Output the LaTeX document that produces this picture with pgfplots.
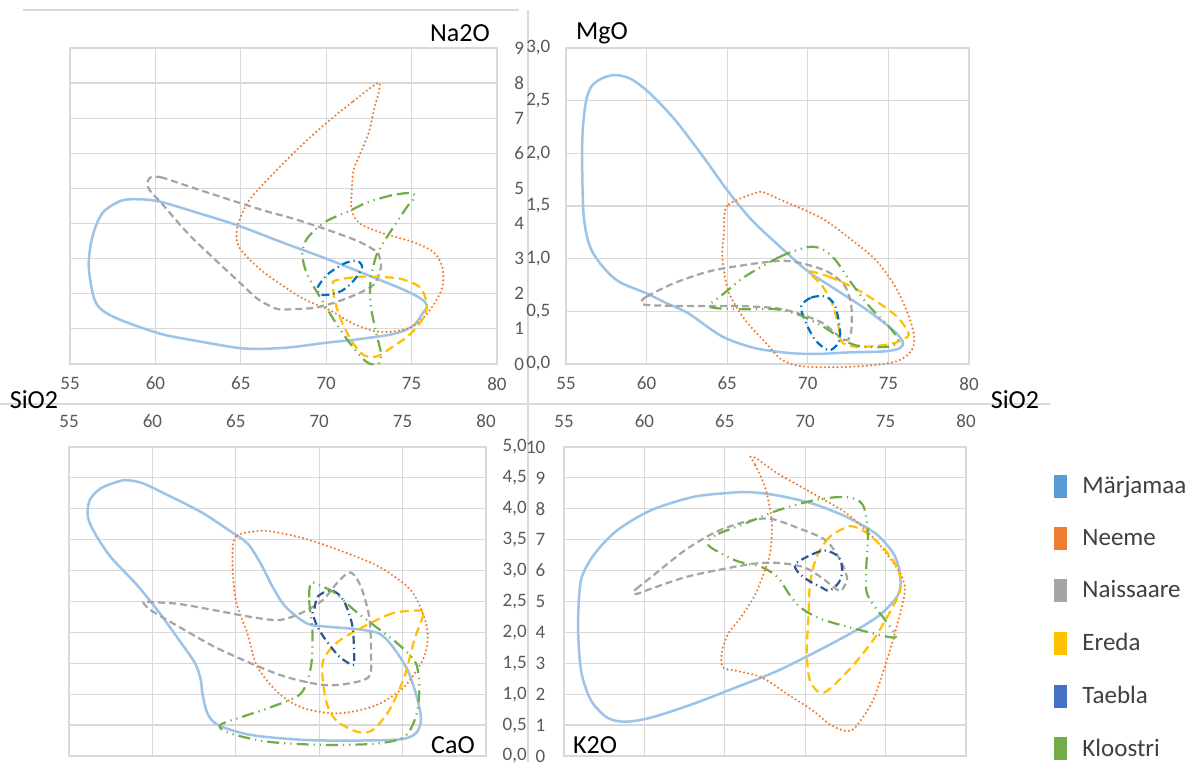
\documentclass[border=0pt]{standalone}
\usepackage{fontspec}
\setmainfont{Carlito}
\usepackage{pgfplots}
\pgfplotsset{compat=1.18}
\definecolor{cMar}{HTML}{9DC3E6}
\definecolor{cMarL}{HTML}{5B9BD5}
\definecolor{cNee}{HTML}{ED7D31}
\definecolor{cNai}{HTML}{A5A5A5}
\definecolor{cEre}{HTML}{FFC000}
\definecolor{cTaeT}{HTML}{0070C0}
\definecolor{cTae}{HTML}{2F5597}
\definecolor{cTaeL}{HTML}{4472C4}
\definecolor{cKlo}{HTML}{70AD47}
\definecolor{gridc}{HTML}{D9D9D9}
\definecolor{labc}{HTML}{595959}
\definecolor{txtc}{HTML}{404040}
\pgfplotsset{
  panel/.style={
    scale only axis, clip=false,
    xmin=55, xmax=80, xtick={55,60,65,70,75,80},
    grid=major, major grid style={draw=gridc, line width=0.6pt},
    axis line style={draw=gridc, line width=0.6pt},
    major tick length=0pt,
    tick label style={font=\fontsize{9.5}{11}\selectfont, text=labc},
    /pgf/number format/assume math mode=true,
  },
  commay/.style={yticklabel style={/pgf/number format/fixed, /pgf/number format/fixed zerofill, /pgf/number format/precision=1, /pgf/number format/use comma}},
  mar/.style={draw=cMar, line width=1.25pt, smooth cycle},
  nee/.style={draw=cNee, line width=1.2pt, line cap=round, dash pattern=on 0pt off 2.1pt, smooth cycle},
  nai/.style={draw=cNai, line width=1.1pt, dash pattern=on 3.5pt off 2pt, smooth cycle},
  ere/.style={draw=cEre, line width=1.1pt, dash pattern=on 4.5pt off 2.5pt, smooth cycle},
  tae/.style={draw=#1, line width=1.1pt, dash pattern=on 4pt off 2pt on 0.6pt off 2pt, smooth cycle},
  klo/.style={draw=cKlo, line width=1.1pt, dash pattern=on 6pt off 2.5pt on 0.6pt off 2.5pt on 0.6pt off 2.5pt, smooth cycle},
  sq/.style={legend image code/.code={\fill[#1] (0pt,-5.5pt) rectangle (6pt,5.5pt);}},
}
\begin{document}
\begin{tikzpicture}
\begin{scope}[x=0.5pt,y=0.5pt]
\useasboundingbox[fill=white] (0,0) rectangle (1195,762);
\draw[gridc, line width=1pt] (0,358) -- (1050,358);
\draw[gridc, line width=1pt] (528,752) -- (528,0);
\draw[gridc, line width=1pt] (23,752) -- (519,752);
\end{scope}

% ---------------- Na2O ----------------
\begin{axis}[panel, at={(35pt,199pt)}, anchor=south west, width=213.5pt, height=158pt,
  ymin=0, ymax=9, ytick={0,1,...,9}, yticklabel pos=right,
  xticklabel style={yshift=-3pt}, yticklabel style={xshift=5.2pt}]
\addplot[mar] coordinates {(59.1,4.69) (60.3,4.62) (62.5,4.30) (64.8,3.95) (67.5,3.45) (70,3.0) (72.8,2.46) (74.7,2.08) (75.6,1.84) (75.9,1.65) (75.6,1.41) (75.2,1.13) (74.7,0.98) (73.8,0.84) (71.8,0.70) (69.9,0.60) (68.0,0.48) (66.2,0.43) (64.8,0.46) (62.5,0.65) (60.3,0.86) (57.6,1.33) (56.5,1.76) (56.1,2.76) (56.3,3.6) (56.9,4.3) (58,4.65)};
\addplot[nee] coordinates {(73.0,8.0) (71.5,7.45) (70.0,6.86) (68.5,6.2) (67.1,5.52) (65.5,4.67) (64.8,3.9) (64.9,3.33) (66.2,2.67) (68.0,2.05) (68.9,1.80) (70.3,1.51) (71.5,1.17) (72.8,0.94) (73.8,0.92) (74.9,1.03) (75.7,1.32) (76.3,1.70) (76.8,2.18) (76.8,2.75) (76.3,3.18) (75.1,3.47) (73.4,3.71) (72.0,3.99) (71.5,4.37) (71.5,4.95) (71.6,5.52) (72.0,6.0) (72.5,6.6) (72.8,7.24) (73.1,7.8)};
\addplot[nai] coordinates {(59.65,5.29) (60.3,5.32) (62,5.05) (64.4,4.67) (66.5,4.35) (68.0,4.15) (69.9,3.85) (71.8,3.51) (72.9,3.22) (73.1,3.08) (73.2,2.75) (72.8,2.27) (71.8,1.99) (70.5,1.75) (69.3,1.6) (68.0,1.56) (67.1,1.57) (66,1.85) (65.0,2.29) (62.1,3.62) (60.5,4.5) (59.6,5.0)};
\addplot[ere] coordinates {(70.5,2.37) (71.8,2.48) (73.2,2.48) (74.4,2.42) (75.5,2.18) (75.9,1.70) (75.7,1.32) (74.9,0.84) (73.8,0.46) (73.0,0.22) (72.2,0.25) (71.5,0.65) (70.9,1.22) (70.5,1.80) (70.4,2.23)};
\addplot[tae=cTaeT] coordinates {(69.5,2.18) (70.1,2.56) (71.1,2.87) (71.8,2.94) (72.1,2.75) (71.6,2.37) (70.9,2.08) (70.1,1.97) (69.6,1.99)};
\addplot[klo] coordinates {(74.9,4.87) (73.8,4.8) (72.4,4.6) (71.4,4.37) (70.1,4.09) (69.3,3.8) (68.8,3.51) (68.6,3.13) (68.8,2.66) (69.3,2.18) (69.9,1.70) (70.5,1.22) (71.3,0.65) (72.1,0.17) (72.6,0.0) (73.1,0.03) (73.2,0.32) (72.9,0.94) (72.6,1.70) (72.6,2.37) (72.9,3.04) (73.3,3.42) (74.2,4.09) (74.8,4.52) (75.2,4.76)};
\end{axis}

% ---------------- MgO ----------------
\begin{axis}[panel, commay, at={(283pt,199pt)}, anchor=south west, width=201.5pt, height=158pt,
  ymin=0, ymax=3, ytick={0,0.5,...,3},
  xticklabel style={yshift=-3pt}, yticklabel style={xshift=-4.3pt}]
\addplot[mar] coordinates {(57.83,2.74) (57.2,2.71) (56.6,2.64) (56.26,2.51) (56.05,2.25) (56.0,1.94) (56.1,1.40) (56.5,1.11) (57.3,0.92) (58.3,0.78) (60.0,0.67) (61.2,0.58) (62.6,0.48) (64.7,0.26) (66.75,0.15) (68.8,0.105) (70.5,0.095) (72.6,0.11) (74.8,0.12) (75.7,0.15) (75.9,0.21) (75.3,0.32) (73.7,0.51) (71.6,0.72) (70.0,0.88) (68.3,1.11) (66.5,1.37) (65.0,1.65) (63.5,1.97) (61.75,2.32) (60.2,2.57) (59.1,2.70) (58.3,2.74)};
\addplot[nee] coordinates {(66.9,1.63) (65.0,1.50) (64.8,1.24) (64.7,1.00) (65.1,0.68) (66.1,0.42) (67.4,0.20) (68.4,0.04) (69.8,-0.025) (72.9,-0.025) (75.4,0.02) (76.4,0.12) (76.6,0.26) (76.2,0.48) (75.4,0.74) (74.2,0.99) (72.7,1.18) (70.9,1.38) (68.3,1.56) (67.4,1.62)};
\addplot[nai] coordinates {(59.7,0.59) (60.0,0.64) (61.75,0.77) (63.9,0.88) (66.1,0.94) (68.4,0.98) (69.8,0.95) (71.3,0.87) (72.3,0.74) (72.7,0.55) (72.7,0.32) (72.5,0.23) (72.1,0.245) (70.9,0.39) (69.4,0.48) (68.0,0.53) (65.7,0.55) (62.6,0.55) (60.0,0.56)};
\addplot[ere] coordinates {(70.15,0.88) (71.3,0.83) (72.9,0.72) (74.4,0.58) (75.6,0.44) (76.2,0.31) (76.2,0.26) (75.4,0.20) (74.2,0.17) (72.9,0.165) (72.1,0.21) (71.9,0.36) (71.5,0.58) (70.9,0.74) (70.2,0.85)};
\addplot[tae=cTaeT] coordinates {(69.6,0.55) (70.2,0.63) (71.1,0.64) (71.7,0.55) (72.0,0.32) (71.9,0.20) (71.3,0.13) (70.45,0.23) (69.8,0.42)};
\addplot[klo] coordinates {(70.0,1.11) (68.3,1.02) (66.1,0.83) (64.8,0.67) (63.9,0.56) (64.3,0.53) (66.1,0.52) (68.0,0.52) (69.4,0.47) (70.9,0.36) (71.9,0.26) (72.9,0.18) (74.2,0.16) (75.2,0.17) (75.6,0.23) (75.0,0.36) (73.8,0.55) (72.7,0.77) (71.7,0.99) (70.9,1.09)};
\end{axis}

% ---------------- CaO ----------------
\begin{axis}[panel, commay, at={(34.5pt,3pt)}, anchor=south west, width=208.5pt, height=154.5pt,
  ymin=0, ymax=5, ytick={0,0.5,...,5}, yticklabel pos=right, xticklabel pos=upper,
  xticklabel style={yshift=6pt}, yticklabel style={xshift=4.8pt}]
\addplot[mar] coordinates {(58.06,4.45) (56.9,4.33) (56.24,4.14) (56.13,3.87) (56.56,3.60) (57.5,3.22) (59.0,2.79) (60.3,2.36) (61.6,1.875) (62.56,1.50) (62.9,1.23) (63.0,1.01) (63.3,0.69) (63.95,0.50) (65.9,0.34) (69.1,0.26) (72.3,0.25) (74.9,0.27) (75.8,0.37) (76.1,0.58) (75.9,0.91) (75.3,1.39) (74.4,1.77) (73.6,1.98) (72.3,2.05) (70.6,2.09) (69.3,2.14) (68.0,2.41) (67.2,2.74) (66.5,3.11) (65.7,3.44) (64.6,3.65) (62.9,3.95) (60.7,4.25) (59.45,4.41) (58.6,4.46)};
\addplot[nee] coordinates {(66.3,3.64) (65.0,3.55) (64.8,3.17) (65.0,2.52) (65.7,1.98) (66.3,1.44) (67.6,1.01) (69.1,0.77) (71.2,0.69) (73.4,0.82) (75.1,1.12) (76.2,1.55) (76.5,1.875) (76.35,2.20) (75.5,2.68) (73.6,3.06) (71.2,3.33) (69.1,3.52) (67.2,3.63)};
\addplot[nai] coordinates {(59.45,2.49) (59.9,2.36) (61.6,2.09) (63.7,1.77) (65.9,1.50) (68.0,1.28) (70.2,1.15) (71.7,1.17) (73.0,1.29) (73.1,1.71) (73.0,2.25) (72.5,2.74) (71.9,2.97) (71.2,2.84) (70.2,2.52) (68.9,2.31) (67.6,2.20) (65.9,2.25) (63.7,2.36) (61.6,2.46) (59.9,2.49)};
\addplot[ere] coordinates {(76.2,2.35) (74.4,2.31) (72.3,2.04) (71.0,1.82) (70.2,1.50) (70.4,0.905) (71.0,0.58) (72.3,0.39) (73.2,0.42) (74.2,0.74) (75.1,1.28) (75.7,1.875) (76.2,2.25)};
\addplot[tae=cTae] coordinates {(69.7,2.36) (69.9,2.575) (70.6,2.68) (71.1,2.63) (71.55,2.47) (72.0,2.09) (72.1,1.55) (72.0,1.47) (71.2,1.61) (70.4,1.875) (69.9,2.09) (69.6,2.31)};
\addplot[klo] coordinates {(69.5,2.80) (69.4,2.52) (69.6,1.98) (69.5,1.44) (68.9,1.01) (67.2,0.80) (65.45,0.64) (64.06,0.50) (64.6,0.37) (66.95,0.23) (70.2,0.18) (73.4,0.20) (75.1,0.31) (75.8,0.64) (76.0,1.07) (75.8,1.50) (74.7,1.82) (73.4,2.09) (72.1,2.36) (71.0,2.63) (70.05,2.76)};
\end{axis}

% ---------------- K2O ----------------
\begin{axis}[panel, at={(282pt,3pt)}, anchor=south west, width=201pt, height=154.5pt,
  ymin=0, ymax=10, ytick={0,1,...,10}, xticklabel pos=upper,
  xticklabel style={yshift=6pt}, yticklabel style={xshift=-5.8pt},
  legend style={at={(1.212,0.925)}, anchor=north west, draw=none, fill=none, inner sep=1pt,
    font=\fontsize{12.5}{15}\selectfont, text=txtc, row sep=12.2pt, column sep=6pt},
  legend cell align=left]
\addplot[mar, forget plot] coordinates {(65.16,8.51) (63.0,8.38) (60.4,7.95) (58.3,7.30) (56.9,6.54) (56.1,5.78) (55.9,4.81) (55.9,3.73) (56.1,2.65) (56.7,1.78) (57.7,1.24) (58.8,1.11) (60.4,1.24) (63.0,1.68) (65.7,2.22) (68.3,2.76) (71.0,3.46) (73.1,4.05) (74.7,4.59) (75.8,5.24) (75.9,5.89) (75.5,6.54) (74.4,7.19) (72.6,7.73) (70.5,8.16) (68.3,8.43) (66.5,8.54)};
\addplot[nee, forget plot] coordinates {(66.6,9.68) (66.9,9.41) (67.5,8.70) (67.9,7.73) (67.9,6.97) (67.7,6.32) (66.9,5.24) (66.0,4.49) (65.2,3.95) (64.8,3.30) (64.9,2.86) (65.7,2.76) (67.3,2.54) (68.9,2.0) (70.5,1.46) (71.5,1.03) (72.5,0.81) (73.1,0.92) (74.2,1.78) (75.2,3.30) (76.0,4.81) (76.2,5.46) (75.8,6.0) (74.4,6.97) (72.6,7.84) (70.5,8.49) (68.3,9.14) (67.0,9.62)};
\addplot[nai, forget plot] coordinates {(59.3,5.30) (59.5,5.41) (60.4,5.78) (62.5,6.65) (64.4,7.24) (66.2,7.57) (67.8,7.68) (69.7,7.35) (71.3,6.97) (72.2,6.32) (72.6,5.78) (72.45,5.51) (72.1,5.35) (71.0,5.78) (69.9,6.11) (68.3,6.25) (66.75,6.22) (64.4,6.0) (62.5,5.78) (60.4,5.41) (59.5,5.24)};
\addplot[ere, forget plot] coordinates {(72.6,7.41) (71.5,7.08) (70.7,6.43) (70.3,5.57) (70.2,4.49) (70.1,3.30) (70.3,2.43) (70.9,2.05) (71.5,2.16) (72.85,2.86) (74.2,3.73) (75.2,4.59) (75.9,5.35) (75.8,6.0) (75.0,6.65) (73.9,7.19) (73.1,7.41)};
\addplot[tae=cTae, forget plot] coordinates {(69.4,6.22) (70.5,6.54) (71.3,6.65) (72.1,6.43) (72.3,6.0) (72.1,5.62) (71.5,5.35) (71.0,5.46) (70.2,5.68) (69.55,5.95)};
\addplot[klo, forget plot] coordinates {(64.0,6.97) (64.6,7.19) (66.2,7.51) (68.3,7.95) (70.5,8.27) (72.1,8.38) (73.1,8.32) (73.65,8.05) (73.9,7.19) (73.8,6.11) (73.8,5.35) (74.2,4.92) (75.0,4.38) (75.6,3.84) (73.6,4.05) (71.0,4.43) (69.7,4.81) (69.0,5.24) (68.3,5.78) (67.3,6.11) (65.7,6.32) (64.1,6.76)};
\addlegendimage{sq=cMarL}
\addlegendentry{Märjamaa}
\addlegendimage{sq=cNee}
\addlegendentry{Neeme}
\addlegendimage{sq=cNai}
\addlegendentry{Naissaare}
\addlegendimage{sq=cEre}
\addlegendentry{Ereda}
\addlegendimage{sq=cTaeL}
\addlegendentry{Taebla}
\addlegendimage{sq=cKlo}
\addlegendentry{Kloostri}
\end{axis}

\begin{scope}[x=0.5pt,y=0.5pt]
\node[font=\fontsize{13}{15}\selectfont, text=black] at (460,729) {Na2O};
\node[font=\fontsize{13}{15}\selectfont, text=black] at (602,729) {MgO};
\node[font=\fontsize{13}{15}\selectfont, text=black] at (453,17) {CaO};
\node[font=\fontsize{13}{15}\selectfont, text=black] at (595,17) {K2O};
\node[font=\fontsize{13}{15}\selectfont, text=black] at (34,362) {SiO2};
\node[font=\fontsize{13}{15}\selectfont, text=black] at (1015,362) {SiO2};
\end{scope}
\end{tikzpicture}
\end{document}
